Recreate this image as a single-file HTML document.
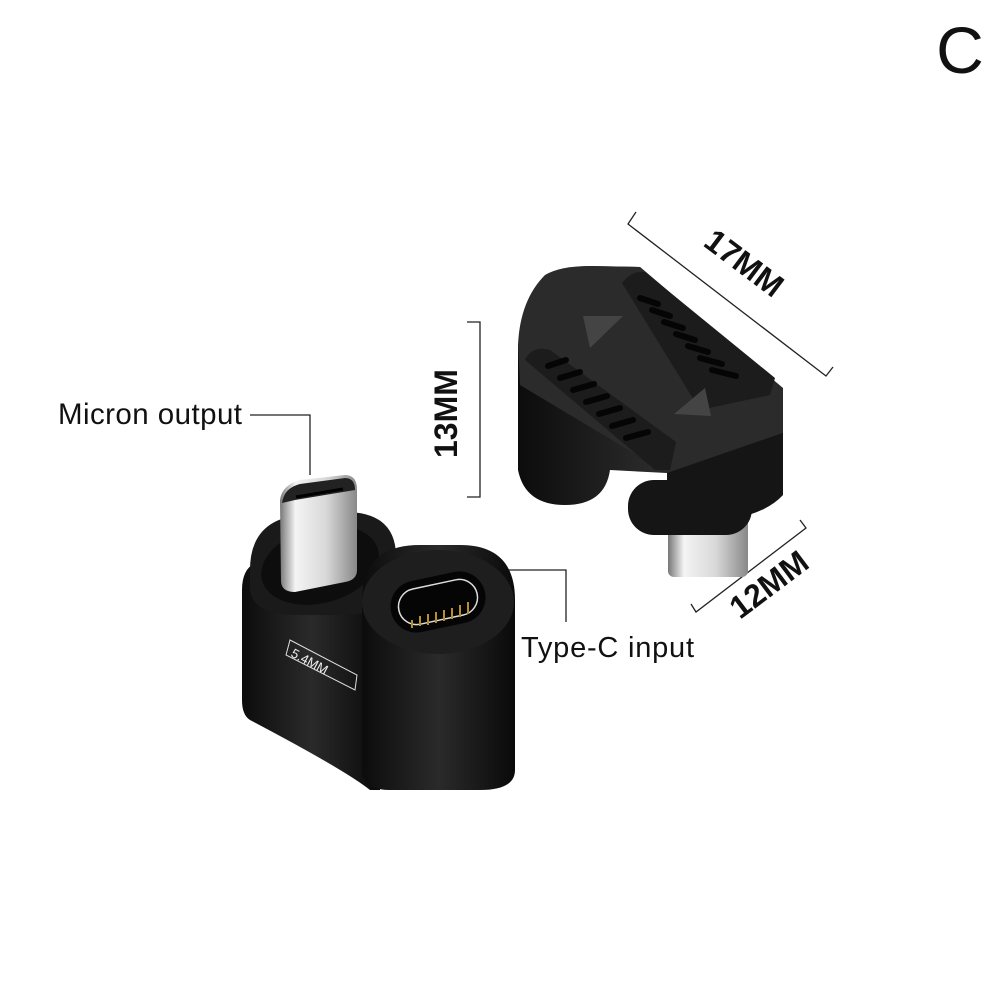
<!DOCTYPE html>
<html><head><meta charset="utf-8"><style>
html,body{margin:0;padding:0;background:#fff;}
svg{display:block;}
</style></head><body>
<svg width="1001" height="1001" viewBox="0 0 1001 1001" xmlns="http://www.w3.org/2000/svg" font-family="Liberation Sans, sans-serif">
<defs>
<linearGradient id="silver" x1="0" x2="1" y1="0" y2="0">
<stop offset="0" stop-color="#777"/><stop offset="0.2" stop-color="#f4f4f4"/><stop offset="0.6" stop-color="#d8d8d8"/><stop offset="1" stop-color="#888"/>
</linearGradient>
<linearGradient id="body" x1="0" x2="1" y1="0" y2="0">
<stop offset="0" stop-color="#0c0c0c"/><stop offset="0.5" stop-color="#2a2a2a"/><stop offset="1" stop-color="#0a0a0a"/>
</linearGradient>
</defs>
<rect width="1001" height="1001" fill="#fff"/>
<text x="960" y="73" font-size="66" text-anchor="middle" fill="#111">C</text>

<g stroke="#222" stroke-width="1.3" fill="none">
<path d="M467 322 H480 V497 H467"/>
<path d="M636 212 L628 224 L826 376 L833 367"/>
<path d="M691 604 L696 612 L806 528 L800 520"/>
<path d="M250 415 H310 V475"/>
<path d="M497 570 H566 V622"/>
</g>
<text x="0" y="0" font-size="32" font-weight="bold" fill="#111" transform="translate(457,458) rotate(-90)">13MM</text>
<text x="0" y="0" font-size="32" font-weight="bold" fill="#111" transform="translate(702,245) rotate(37)">17MM</text>
<text x="0" y="0" font-size="32" font-weight="bold" fill="#111" transform="translate(740,620) rotate(-37)">12MM</text>
<text x="58" y="424" font-size="29.5" fill="#111" textLength="184">Micron output</text>
<text x="521" y="657" font-size="29" fill="#111" textLength="173">Type-C input</text>

<!-- right connector -->
<rect x="668" y="505" width="80" height="72" rx="6" fill="url(#silver)"/>
<rect x="628" y="480" width="124" height="55" rx="26" fill="#151515"/>
<path d="M518 345 L518 470 Q525 505 565 505 Q605 505 610 470 L667 473 L667 500 Q700 525 783 490 L783 390 L640 267 L590 266 Q545 268 530 300 Z" fill="url(#body)"/>
<path d="M518 345 Q520 300 545 275 Q560 266 590 266 L640 267 L783 388 L783 433 L667 473 L520 385 Z" fill="#2b2b2b"/>
<path d="M667 473 L783 433 L783 495 Q760 520 700 522 L667 505 Z" fill="#151515"/>
<path d="M622 283 Q632 270 645 272 L775 378 L770 395 L700 410 Z" fill="#1c1c1c"/>
<path d="M525 360 Q532 345 550 350 L676 442 L670 470 L655 470 Z" fill="#1c1c1c"/>
<g stroke="#050505" stroke-width="6" stroke-linecap="round">
<line x1="640" y1="298" x2="658" y2="304"/><line x1="652" y1="310" x2="670" y2="316"/>
<line x1="664" y1="322" x2="683" y2="328"/><line x1="676" y1="334" x2="695" y2="340"/>
<line x1="688" y1="346" x2="708" y2="352"/><line x1="700" y1="358" x2="722" y2="364"/>
<line x1="712" y1="370" x2="736" y2="376"/>
<line x1="548" y1="366" x2="566" y2="360"/><line x1="560" y1="378" x2="580" y2="372"/>
<line x1="573" y1="390" x2="594" y2="384"/><line x1="586" y1="402" x2="607" y2="396"/>
<line x1="599" y1="414" x2="620" y2="408"/><line x1="612" y1="426" x2="633" y2="420"/>
<line x1="626" y1="438" x2="648" y2="432"/>
</g>
<polygon points="583,316 623,316 590,348" fill="#444"/>
<polygon points="705,388 711,416 674,414" fill="#444"/>

<!-- left connector -->
<path d="M242 590 Q242 560 270 560 L380 560 L380 790 L370 790 Q345 770 250 720 Q242 715 242 700 Z" fill="url(#body)"/>
<path d="M250 570 Q250 520 300 515 L345 512 Q395 512 396 555 L396 590 Q390 615 340 615 L290 615 Q252 612 250 590 Z" fill="#1a1a1a"/>
<ellipse cx="320" cy="565" rx="60" ry="38" fill="#0d0d0d" transform="rotate(-15 320 565)"/>
<path d="M280 500 Q282 485 300 480 L345 475 Q357 475 357 490 L357 570 Q357 580 345 582 L295 592 Q282 592 281 582 Z" fill="url(#silver)"/>
<path d="M282 503 Q284 488 300 484 L345 478 Q355 478 355 490 L295 500 Z" fill="#222"/>
<line x1="296" y1="497" x2="343" y2="489" stroke="#000" stroke-width="3"/>
<path d="M362 600 Q362 545 420 545 L460 545 Q515 545 515 600 L515 770 Q515 790 480 790 L390 790 Q362 790 362 770 Z" fill="url(#body)"/>
<ellipse cx="438" cy="602" rx="76" ry="52" fill="#1e1e1e"/>
<rect x="390" y="576" width="96" height="52" rx="26" fill="#050505" transform="rotate(-12 438 602)"/>
<rect x="398" y="584" width="80" height="36" rx="18" fill="none" stroke="#ddd" stroke-width="1.5" transform="rotate(-12 438 602)"/>
<g stroke="#b8902a" stroke-width="2">
<line x1="412" y1="628" x2="412" y2="620"/><line x1="420" y1="626" x2="420" y2="616"/>
<line x1="428" y1="625" x2="428" y2="614"/><line x1="436" y1="623" x2="436" y2="612"/>
<line x1="444" y1="621" x2="444" y2="610"/><line x1="452" y1="619" x2="452" y2="608"/>
<line x1="460" y1="617" x2="460" y2="605"/><line x1="468" y1="614" x2="468" y2="602"/>
</g>
<path d="M290 640 L357 675 L355 690 L286 655 Z" fill="none" stroke="#ddd" stroke-width="1"/>
<text x="0" y="0" font-size="13" fill="#eee" transform="translate(290,656) rotate(28)">5.4MM</text>
</svg>
</body></html>
